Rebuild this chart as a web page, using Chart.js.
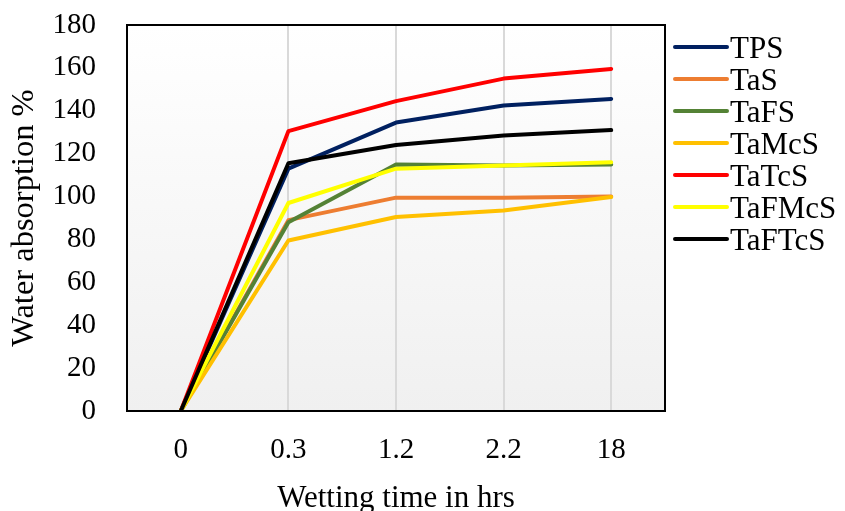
<!DOCTYPE html>
<html>
<head>
<meta charset="utf-8">
<script src="https://cdn.jsdelivr.net/npm/chart.js@4"></script>
<style>
  body { margin: 0; background: #fff; overflow: hidden; }
  #wrap { width: 845px; height: 511px; position: relative; }
</style>
</head>
<body>
<div id="wrap"><canvas id="waterChart"></canvas></div>
<script>
const categories = ['0', '0.3', '1.2', '2.2', '18'];
const seriesNames = ['TPS', 'TaS', 'TaFS', 'TaMcS', 'TaTcS', 'TaFMcS', 'TaFTcS'];
const seriesColors = ['#002060', '#ED7D31', '#548235', '#FFC000', '#FF0000', '#FFFF00', '#000000'];

const tps    = [0, 113,   134.5, 142.5, 145.5];
const tas    = [0, 89,    99.5,  99.5,  100];
const tafs   = [0, 88,    115,   114.5, 115];
const tamcs  = [0, 79.5,  90.5,  93.5,  99.8];
const tatcs  = [0, 130.5, 144.5, 155,   159.5];
const tafmcs = [0, 97,    113,   114.5, 116];
const taftcs = [0, 115.5, 124,   128.5, 131];

const yTicks = [0, 20, 40, 60, 80, 100, 120, 140, 160, 180];

const allSeries = [tps, tas, tafs, tamcs, tatcs, tafmcs, taftcs];
const serif = '"Liberation Serif", "Times New Roman", serif';

// plot background gradient + frame
const plotFrame = {
    id: 'plotFrame',
    beforeDraw(chart) {
        const { ctx, chartArea: a } = chart;
        const g = ctx.createLinearGradient(0, a.top, 0, a.bottom);
        g.addColorStop(0, '#ffffff');
        g.addColorStop(1, '#f0f0f0');
        ctx.save();
        ctx.fillStyle = g;
        ctx.fillRect(a.left, a.top, a.right - a.left, a.bottom - a.top);
        ctx.restore();
    },
    afterDraw(chart) {
        const { ctx, chartArea: a } = chart;
        ctx.save();
        ctx.strokeStyle = '#000';
        ctx.lineWidth = 2;
        ctx.strokeRect(a.left, a.top, a.right - a.left, a.bottom - a.top);
        ctx.restore();
    }
};

// legend drawn like the Excel one: short line + label
const lineLegend = {
    id: 'lineLegend',
    afterDraw(chart) {
        const { ctx } = chart;
        const x0 = 675, x1 = 727, y0 = 47, step = 32;
        ctx.save();
        chart.data.datasets.forEach((ds, i) => {
            const y = y0 + i * step;
            ctx.strokeStyle = ds.borderColor;
            ctx.lineWidth = 4;
            ctx.lineCap = 'round';
            ctx.beginPath();
            ctx.moveTo(x0, y);
            ctx.lineTo(x1, y);
            ctx.stroke();
            ctx.fillStyle = '#000';
            ctx.font = '31px ' + serif;
            ctx.textAlign = 'left';
            ctx.textBaseline = 'alphabetic';
            ctx.fillText(ds.label, x1 + 3, y + 10.5);
        });
        ctx.restore();
    }
};

new Chart(document.getElementById('waterChart'), {
    type: 'line',
    data: {
        labels: categories,
        datasets: seriesNames.map((name, i) => ({
            label: name,
            data: allSeries[i],
            borderColor: seriesColors[i],
            backgroundColor: seriesColors[i],
            borderWidth: 4,
            borderCapStyle: 'round',
            borderJoinStyle: 'round',
            pointRadius: 0,
            tension: 0,
            order: -i
        }))
    },
    options: {
        responsive: true,
        maintainAspectRatio: false,
        animation: false,
        layout: { padding: { top: 25, right: 180, left: 0, bottom: 0 } },
        plugins: {
            legend: { display: false },
            tooltip: { enabled: false }
        },
        scales: {
            x: {
                offset: true,
                afterFit(scale) {
                    scale.height = 100;
                    scale.paddingLeft = 0;
                    scale.paddingRight = 0;
                },
                grid: {
                    offset: false,
                    drawTicks: false,
                    lineWidth: 2,
                    color: ctx => ctx.index === 0 ? 'rgba(0,0,0,0)' : '#d9d9d9'
                },
                border: { display: false },
                ticks: {
                    padding: 24.5,
                    color: '#000',
                    maxRotation: 0,
                    font: { family: serif, size: 29, lineHeight: 1 }
                },
                title: {
                    display: true,
                    text: 'Wetting time in hrs',
                    color: '#000',
                    font: { family: serif, size: 31, lineHeight: 1 },
                    padding: { top: 0, bottom: -3 }
                }
            },
            y: {
                min: 0,
                max: 180,
                afterFit(scale) {
                    scale.width = 127;
                    scale.paddingTop = 0;
                    scale.paddingBottom = 0;
                },
                afterBuildTicks(scale) { scale.ticks = yTicks.map(v => ({ value: v })); },
                grid: { display: false, drawTicks: false },
                border: { display: false },
                ticks: {
                    padding: 31,
                    color: '#000',
                    font: { family: serif, size: 29, lineHeight: 1 }
                },
                title: {
                    display: true,
                    text: 'Water absorption %',
                    color: '#000',
                    font: { family: serif, size: 32.5, lineHeight: 1 },
                    padding: { top: 7.75, bottom: 0 }
                }
            }
        }
    },
    plugins: [plotFrame, lineLegend]
});
</script>
</body>
</html>
